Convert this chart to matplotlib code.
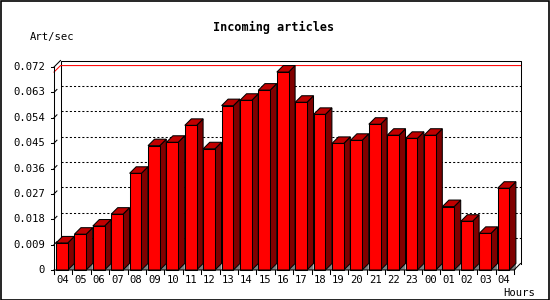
import matplotlib
matplotlib.use("Agg")
import matplotlib.pyplot as plt
from matplotlib.patches import Polygon, Rectangle

# data
hours = ["04", "05", "06", "07", "08", "09", "10", "11", "12", "13", "14", "15", "16",
         "17", "18", "19", "20", "21", "22", "23", "00", "01", "02", "03", "04"]
art_per_sec = [0.0096, 0.0127, 0.0156, 0.0198, 0.0343, 0.0441, 0.0453, 0.0513, 0.0430,
               0.0583, 0.0602, 0.0638, 0.0702, 0.0595, 0.0552, 0.0449, 0.0460, 0.0517,
               0.0478, 0.0467, 0.0478, 0.0225, 0.0173, 0.0130, 0.0290]
yticks = [0, 0.009, 0.018, 0.027, 0.036, 0.045, 0.054, 0.063, 0.072]
ytick_labels = ["0", "0.009", "0.018", "0.027", "0.036", "0.045", "0.054", "0.063", "0.072"]

W, H = 550, 300
fig = plt.figure(figsize=(5.5, 3), dpi=100)
fig.patch.set_facecolor("white")
fig.patches.append(Rectangle((0.5 / W, 0.5 / H), 1 - 1.5 / W, 1 - 1.5 / H, transform=fig.transFigure,
                             fill=False, edgecolor="black", linewidth=1.2))

# front plane of plot: x 54..514, y 67..270 px
ax = fig.add_axes([54 / W, 30 / H, 460 / W, 203 / H])
n = len(hours)
ymax = yticks[-1]
ax.set_xlim(0, n)
ax.set_ylim(0, ymax)
ax.axis("off")

# depth in data units
dpx = 6.5
dx = dpx * n / 460
dy = dpx * ymax / 203

font = "DejaVu Sans Mono"
lw = 0.75

# back plane frame
ax.plot([dx, dx, n + dx, n + dx], [dy, ymax + dy, ymax + dy, dy], color="black", lw=lw, clip_on=False, zorder=1)
# grid lines on back plane
for v in yticks[1:-1]:
    ax.plot([dx, n + dx], [v + dy, v + dy], color="black", lw=lw, ls=(0, (2, 2)), clip_on=False, zorder=1)
    ax.plot([0, dx * 0.45], [v, v + dy * 0.45], color="black", lw=lw, clip_on=False, zorder=1)
# max line
mx = max(art_per_sec)
ax.plot([0, dx, n + dx], [mx, mx + dy, mx + dy], color="red", lw=lw, clip_on=False, zorder=1)

# front axes and wall edges
ax.plot([0, 0], [0, ymax], color="black", lw=lw, clip_on=False, zorder=2)
ax.plot([0, dx], [ymax, ymax + dy], color="black", lw=lw, clip_on=False, zorder=2)
ax.plot([0, n, n + dx], [0, 0, dy], color="black", lw=lw, clip_on=False, zorder=5)

# bars
x0, bw = 0.11, 0.64
for i, v in enumerate(art_per_sec):
    xl = i + x0
    xr = xl + bw
    ax.add_patch(Polygon([(xr, 0), (xr + dx, dy), (xr + dx, 0)], closed=True,
                         facecolor="#808080", edgecolor="none", clip_on=False, zorder=3))
    ax.add_patch(Polygon([(xr, 0), (xr + dx, dy), (xr + dx, v + dy), (xr, v)], closed=True,
                         facecolor="#800000", edgecolor="black", lw=lw, clip_on=False, zorder=3))
    ax.add_patch(Polygon([(xl, v), (xl + dx, v + dy), (xr + dx, v + dy), (xr, v)], closed=True,
                         facecolor="#c00000", edgecolor="black", lw=lw, clip_on=False, zorder=3))
    ax.bar(xl, v, width=bw, align="edge", color="#ff0000", edgecolor="black", lw=lw, zorder=3, clip_on=False)

# y ticks and labels
for v, lab in zip(yticks, ytick_labels):
    ax.plot([-3 * n / 460, 0], [v, v], color="black", lw=lw, clip_on=False, zorder=2)
    ax.text(-9 * n / 460, v, lab, ha="right", va="center", fontsize=7.6, family=font)

# x ticks and labels
for i in range(n + 1):
    ax.plot([i, i], [0, -4 * ymax / 203], color="black", lw=lw, clip_on=False, zorder=2)
for i, lab in enumerate(hours):
    ax.text(i + 0.45, -10 * ymax / 203, lab, ha="center", va="center", fontsize=7.6, family=font)

fig.text(274 / W, 1 - 27 / H, "Incoming articles", ha="center", va="center",
         fontsize=8.5, family=font, weight="bold")
fig.text(30 / W, 1 - 37 / H, "Art/sec", ha="left", va="center", fontsize=7.6, family=font)
fig.text(519 / W, 1 - 293 / H, "Hours", ha="center", va="center", fontsize=7.6, family=font)

fig.savefig("out.png", dpi=100)
